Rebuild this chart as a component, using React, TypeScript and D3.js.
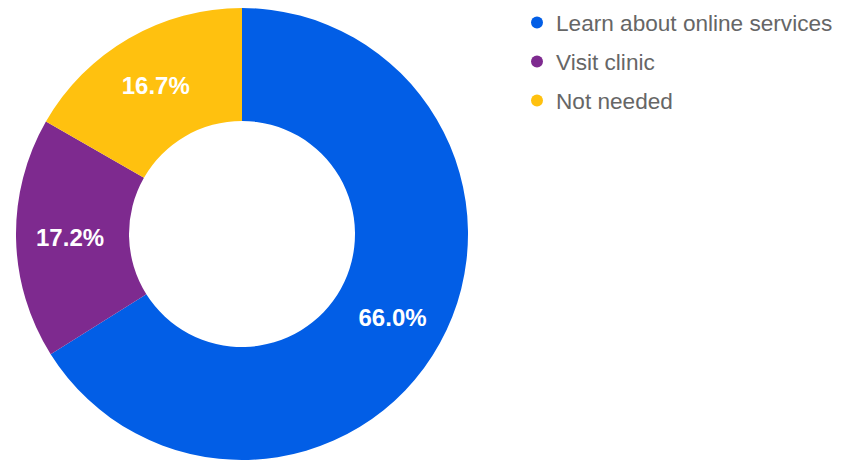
import React from "react";
import * as d3 from "d3";

const categories = ["Learn about online services", "Visit clinic", "Not needed"];
const values = [66.0, 17.2, 16.7];
const labels = ["66.0%", "17.2%", "16.7%"];
const colors = ["#025ee6", "#7e2a8f", "#ffc10f"];

export default function App() {
  const width = 852;
  const height = 460;
  const cx = 242;
  const cy = 234;
  const outerR = 226;
  const innerR = 113;
  const pie = d3.pie<number>().sort(null).value((d) => d);
  const arcs = pie(values);
  const arc = d3.arc<d3.PieArcDatum<number>>().innerRadius(innerR).outerRadius(outerR);
  const labelArc = d3.arc<d3.PieArcDatum<number>>().innerRadius(172).outerRadius(172);
  const legendY = d3.scalePoint<string>().domain(categories).range([22.5, 100.5]);

  return (
    <svg width={width} height={height} style={{ position: "absolute", left: 0, top: 0 }}
      fontFamily="'Liberation Sans', Arial, sans-serif">
      <rect width={width} height={height} fill="#fff" />
      <g transform={`translate(${cx},${cy})`}>
        {arcs.map((a, i) => (
          <path key={i} d={arc(a) || ""} fill={colors[i]} />
        ))}
        {arcs.map((a, i) => {
          const [x, y] = labelArc.centroid(a);
          return (
            <text key={i} x={x} y={y} dy="0.36em" textAnchor="middle" fill="#fff"
              fontSize={24} fontWeight="bold">
              {labels[i]}
            </text>
          );
        })}
      </g>
      {categories.map((c, i) => (
        <g key={c} transform={`translate(0,${legendY(c)})`}>
          <circle cx={537} cy={0} r={6} fill={colors[i]} />
          <text x={556} y={0} dy="0.36em" fontSize={22.6} fill="#666">
            {c}
          </text>
        </g>
      ))}
    </svg>
  );
}
